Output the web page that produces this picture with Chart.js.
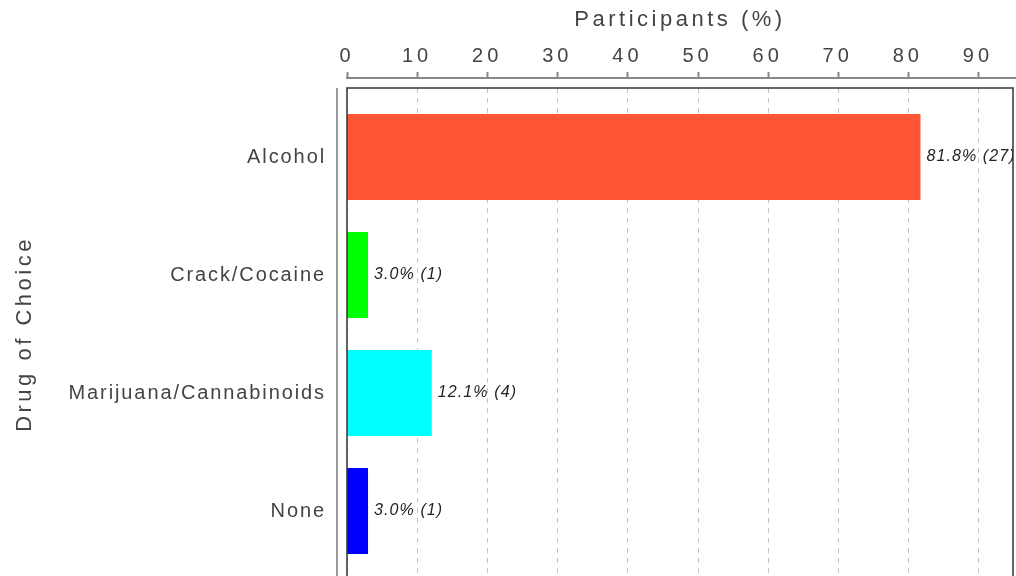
<!DOCTYPE html>
<html>
<head>
<meta charset="utf-8">
<script src="https://cdn.jsdelivr.net/npm/chart.js@4"></script>
<style>
  html, body { margin: 0; padding: 0; background: #fff; overflow: hidden; }
  #wrap { width: 1016px; height: 576px; }
</style>
</head>
<body>
<div id="wrap"><canvas id="drugChart"></canvas></div>
<script>
const drugs = ["Alcohol", "Crack/Cocaine", "Marijuana/Cannabinoids", "None"];
const percents = [81.8, 3.0, 12.1, 3.0];
const counts = [27, 1, 4, 1];
const barColors = ["#FF5733", "#00FF00", "#00FFFF", "#0000FF"];
const xTicks = [0, 10, 20, 30, 40, 50, 60, 70, 80, 90];

const FONT = "'Liberation Sans', Arial, sans-serif";
const TEXT = "#444";

// canvas letterSpacing per scale part (labels / title)
function spaced(obj, method, px) {
  const orig = obj[method];
  obj[method] = function (...args) {
    this.ctx.save();
    this.ctx.letterSpacing = px;
    orig.apply(this, args);
    this.ctx.restore();
  };
}

// drop the extra room Chart.js keeps for edge labels
function fixedBox(prop, size) {
  return scale => {
    scale[prop] = size;
    scale.paddingTop = scale.paddingBottom = 0;
    scale.paddingLeft = scale.paddingRight = 0;
  };
}

const framePlugin = {
  id: "frame",
  afterLayout(chart) {
    const { x, y } = chart.scales;
    if (x._spaced) return;
    spaced(x, "drawLabels", "4px");
    spaced(x, "drawTitle", "3.5px");
    spaced(y, "drawLabels", "1.9px");
    spaced(y, "drawTitle", "3.5px");
    x._spaced = y._spaced = true;
  },
  beforeDatasetsDraw(chart) {
    const { ctx, chartArea, scales: { x } } = chart;
    const top = chartArea.top - 10;
    ctx.save();
    ctx.strokeStyle = "#c4c4c4";
    ctx.lineWidth = 1;
    ctx.setLineDash([5, 5]);
    x.ticks.forEach(t => {
      const px = Math.round(x.getPixelForValue(t.value)) + 0.5;
      ctx.beginPath();
      ctx.moveTo(px, top);
      ctx.lineTo(px, chart.height + 20);
      ctx.stroke();
    });
    ctx.restore();
  },
  afterDatasetsDraw(chart) {
    const { ctx, chartArea, scales: { x } } = chart;
    const top = chartArea.top - 10;

    // value labels, clipped to plot
    ctx.save();
    ctx.beginPath();
    ctx.rect(chartArea.left, top, chartArea.right - chartArea.left, chart.height);
    ctx.clip();
    ctx.font = "italic 16px " + FONT;
    ctx.fillStyle = "#222";
    ctx.textBaseline = "middle";
    ctx.letterSpacing = "1.1px";
    chart.getDatasetMeta(0).data.forEach((bar, i) => {
      ctx.fillText(percents[i].toFixed(1) + "% (" + counts[i] + ")", bar.x + 6, bar.y);
    });
    ctx.restore();

    ctx.save();
    // plot border
    ctx.strokeStyle = "#333";
    ctx.lineWidth = 1.5;
    ctx.strokeRect(chartArea.left, top, chartArea.right - chartArea.left, chart.height);
    // left axis line
    ctx.strokeStyle = "#999";
    ctx.lineWidth = 2;
    ctx.beginPath();
    ctx.moveTo(chartArea.left - 10, top);
    ctx.lineTo(chartArea.left - 10, chart.height);
    ctx.stroke();
    // top axis line and tick marks
    ctx.strokeStyle = "#888";
    ctx.beginPath();
    ctx.moveTo(chartArea.left - 1, top - 10);
    ctx.lineTo(chart.width, top - 10);
    x.ticks.forEach(t => {
      const px = Math.round(x.getPixelForValue(t.value)) + 0.5;
      ctx.moveTo(px, top - 10);
      ctx.lineTo(px, top - 16);
    });
    ctx.stroke();
    ctx.restore();
  }
};

new Chart(document.getElementById("drugChart"), {
  type: "bar",
  data: {
    labels: drugs,
    datasets: [{
      data: percents,
      backgroundColor: barColors,
      borderWidth: 0,
      categoryPercentage: 1,
      barPercentage: 0.73
    }]
  },
  options: {
    indexAxis: "y",
    responsive: true,
    maintainAspectRatio: false,
    animation: false,
    layout: { padding: { top: 0, left: 0, right: 3, bottom: 6 } },
    plugins: {
      legend: { display: false },
      tooltip: { enabled: false }
    },
    scales: {
      x: {
        position: "top",
        min: 0,
        max: 95,
        afterBuildTicks: scale => {
          scale.ticks = xTicks.map(v => ({ value: v }));
        },
        afterFit: fixedBox("height", 98),
        grid: { display: false, drawTicks: false },
        border: { display: false },
        ticks: {
          autoSkip: false,
          maxRotation: 0,
          padding: 30,
          color: TEXT,
          font: { family: FONT, size: 20 }
        },
        title: {
          display: true,
          text: "Participants (%)",
          color: TEXT,
          font: { family: FONT, size: 22 },
          padding: { top: 7, bottom: 0 }
        }
      },
      y: {
        afterFit: fixedBox("width", 347),
        grid: { display: false, drawTicks: false },
        border: { display: false },
        ticks: {
          padding: 21,
          color: TEXT,
          font: { family: FONT, size: 20 }
        },
        title: {
          display: true,
          text: "Drug of Choice",
          color: TEXT,
          font: { family: FONT, size: 22 },
          padding: { top: 12, bottom: 0 }
        }
      }
    }
  },
  plugins: [framePlugin]
});
</script>
</body>
</html>
